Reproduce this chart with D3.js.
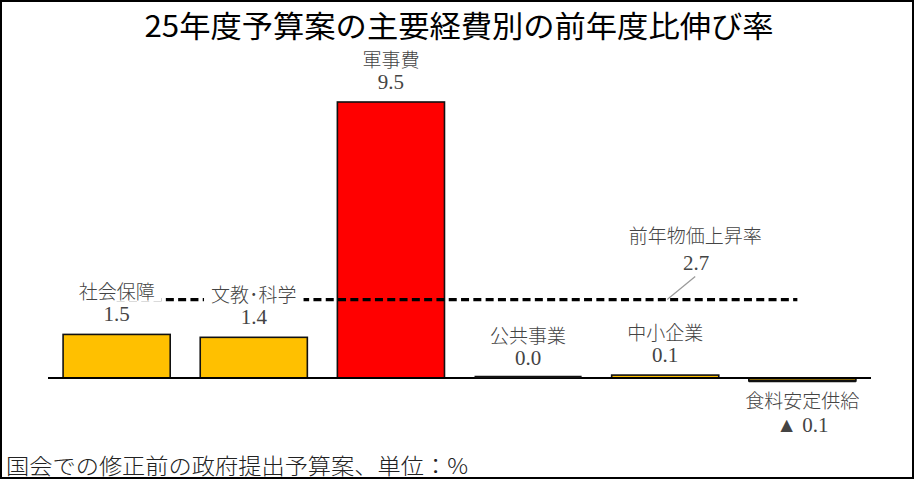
<!DOCTYPE html>
<html>
<head>
<meta charset="utf-8">
<script src="https://cdn.jsdelivr.net/npm/d3@7"></script>
<style>
  body { margin: 0; background: #fff; }
  svg { display: block; }
</style>
</head>
<body>
<svg width="916" height="481"></svg>
<script>
// 25年度予算案の主要経費別の前年度比伸び率 (%)
const categories = ["社会保障", "文教･科学", "軍事費", "公共事業", "中小企業", "食料安定供給"];
const values = [1.5, 1.4, 9.5, 0.0, 0.1, -0.1];
const priceRiseLabel = "前年物価上昇率";
const priceRise = 2.7;
const highlight = "軍事費";
const title = "25年度予算案の主要経費別の前年度比伸び率";
const note = "国会での修正前の政府提出予算案、単位：%";

const svg = d3.select("svg"),
      width = +svg.attr("width"),
      height = +svg.attr("height");

const jp = "'Noto Sans CJK JP', sans-serif";
const num = "'Liberation Serif', 'DejaVu Serif', serif";
const labelColor = "#444";

const data = categories.map((c, i) => ({ cat: c, v: values[i] }));

const x = d3.scaleBand()
    .domain(categories)
    .range([48, 871])
    .paddingInner(0.219)
    .paddingOuter(0.11);

const y = d3.scaleLinear()
    .domain([0, d3.max(values)])
    .range([378, 102]);

const bw = x.bandwidth();

// frame
svg.append("rect")
    .attr("x", 1).attr("y", 1)
    .attr("width", 912).attr("height", 477)
    .attr("fill", "none")
    .attr("stroke", "#000")
    .attr("stroke-width", 2);

// title
svg.append("text")
    .attr("x", width / 2 + 1)
    .attr("y", 37)
    .attr("text-anchor", "middle")
    .attr("font-family", jp)
    .attr("font-size", 30)
    .attr("font-weight", 400)
    .attr("fill", "#000")
    .attr("textLength", 629)
    .attr("lengthAdjust", "spacingAndGlyphs")
    .text(title);

// bars
svg.append("g")
  .selectAll("rect")
  .data(data)
  .join("rect")
    .attr("x", d => x(d.cat))
    .attr("y", d => y(Math.max(d.v, 0)))
    .attr("width", bw)
    .attr("height", d => Math.abs(y(d.v) - y(0)))
    .attr("fill", d => d.cat === highlight ? "#ff0000" : "#ffc000")
    .attr("stroke", "#111")
    .attr("stroke-width", 1.6);

// baseline
svg.append("line")
    .attr("x1", x.range()[0]).attr("x2", x.range()[1])
    .attr("y1", y(0)).attr("y2", y(0))
    .attr("stroke", "#000")
    .attr("stroke-width", 2);

// zero / tiny bars read as a thick black edge on the baseline
svg.append("g")
  .selectAll("line")
  .data(data.filter(d => d.v <= 0))
  .join("line")
    .attr("x1", d => x(d.cat)).attr("x2", d => x(d.cat) + bw)
    .attr("y1", d => y(d.v) + (d.v < 0 ? 0 : -1))
    .attr("y2", d => y(d.v) + (d.v < 0 ? 0 : -1))
    .attr("stroke", "#111")
    .attr("stroke-width", 2.6);

// price rise reference line (drawn before the labels, whose white boxes cut it)
const refG = svg.append("g");
refG.append("line")
    .attr("x1", x(categories[0]) + bw / 2)
    .attr("x2", x(categories[5]) + bw / 2 - 5)
    .attr("y1", y(priceRise)).attr("y2", y(priceRise))
    .attr("stroke", "#000")
    .attr("stroke-width", 3.2)
    .attr("stroke-dasharray", "8,4.3");

const refX = x(categories[4]) + bw / 2;
refG.append("line")
    .attr("x1", refX + 2).attr("y1", y(priceRise))
    .attr("x2", refX + 30).attr("y2", y(priceRise) - 23)
    .attr("stroke", "#999")
    .attr("stroke-width", 1.2);

refG.append("text")
    .attr("x", refX + 30)
    .attr("y", y(priceRise) - 57)
    .attr("text-anchor", "middle")
    .attr("font-family", jp)
    .attr("font-size", 19)
    .attr("font-weight", 300)
    .attr("fill", labelColor)
    .text(priceRiseLabel);

refG.append("text")
    .attr("x", refX + 31)
    .attr("y", y(priceRise) - 30)
    .attr("text-anchor", "middle")
    .attr("font-family", num)
    .attr("font-size", 21)
    .attr("fill", labelColor)
    .text(priceRise.toFixed(1));

// bar labels
const fmt = v => v < 0 ? "▲ " + Math.abs(v).toFixed(1) : v.toFixed(1);

const lab = svg.append("g")
  .selectAll("g")
  .data(data)
  .join("g")
    .attr("transform", d => `translate(${x(d.cat) + bw / 2},${y(d.v)})`);

const catText = lab.append("text")
    .attr("y", d => d.v < 0 ? 27 : -35)
    .attr("text-anchor", "middle")
    .attr("font-family", jp)
    .attr("font-size", 19)
    .attr("font-weight", 300)
    .attr("fill", labelColor)
    .text(d => d.cat);

catText.each(function() {
  const b = this.getBBox();
  d3.select(this.parentNode).insert("rect", "text")
      .attr("x", b.x - 7).attr("y", b.y + 3)
      .attr("width", b.width + 14).attr("height", b.height - 6)
      .attr("fill", "#fff");
});

lab.append("text")
    .attr("y", d => d.v < 0 ? 51 : -13)
    .attr("text-anchor", "middle")
    .attr("font-family", num)
    .attr("font-size", 21)
    .attr("fill", labelColor)
    .text(d => fmt(d.v));

// footnote
svg.append("text")
    .attr("x", 6)
    .attr("y", 474)
    .attr("font-family", jp)
    .attr("font-size", 22)
    .attr("font-weight", 300)
    .attr("fill", "#222")
    .attr("textLength", 462)
    .attr("lengthAdjust", "spacingAndGlyphs")
    .text(note);
</script>
</body>
</html>
